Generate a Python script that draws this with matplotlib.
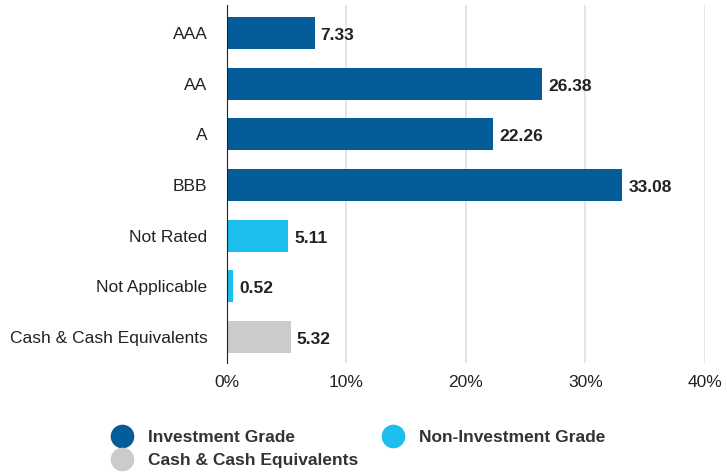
import matplotlib
matplotlib.use('Agg')
import matplotlib.pyplot as plt
from matplotlib.lines import Line2D

# Data
categories = ['AAA', 'AA', 'A', 'BBB', 'Not Rated', 'Not Applicable', 'Cash & Cash Equivalents']
values = [7.33, 26.38, 22.26, 33.08, 5.11, 0.52, 5.32]
groups = ['inv', 'inv', 'inv', 'inv', 'non', 'non', 'cash']
group_labels = {'inv': 'Investment Grade', 'non': 'Non-Investment Grade', 'cash': 'Cash & Cash Equivalents'}
group_colors = {'inv': '#045C98', 'non': '#1BBEEC', 'cash': '#CCCBC9'}
xticks = [0, 10, 20, 30, 40]

plt.rcParams['font.family'] = ['Liberation Sans', 'DejaVu Sans']

fig = plt.figure(figsize=(7.27, 4.72), dpi=100)
ax = fig.add_axes([0.3122, 0.2309, 0.6575, 0.7585])

y = list(range(len(categories)))
colors = [group_colors[g] for g in groups]
ax.barh(y, values, height=0.63, color=colors, zorder=3)

for yi, v in zip(y, values):
    ax.text(v + 0.5, yi + 0.05, f'{v:.2f}', va='center', ha='left',
            fontsize=12.5, fontweight='bold', color='#222222')

ax.set_xlim(0, 40)
ax.set_ylim(6.51, -0.55)
ax.set_yticks(y)
ax.set_yticklabels(categories, fontsize=12.5, color='#222222')
ax.set_xticks(xticks)
ax.set_xticklabels([f'{t}%' for t in xticks], fontsize=12.5, color='#222222')
ax.tick_params(axis='x', length=0, pad=8.5)
ax.tick_params(axis='y', length=0, pad=14)
ax.grid(axis='x', color='#E0E0E0', linewidth=1.2, zorder=0)
for s in ['top', 'right', 'bottom']:
    ax.spines[s].set_visible(False)
ax.spines['left'].set_color('#222222')
ax.spines['left'].set_zorder(4)

# Legend, ordered so that it fills row-wise
order = ['inv', 'cash', 'non']
handles = [Line2D([], [], marker='o', linestyle='', markersize=16,
                  markerfacecolor=group_colors[g], markeredgecolor=group_colors[g],
                  label=group_labels[g]) for g in order]
leg = fig.legend(handles=handles, ncol=2, loc='upper left',
                 bbox_to_anchor=(0.142, 0.107), frameon=False,
                 prop={'size': 12.5, 'weight': 'bold'},
                 handletextpad=0.9, columnspacing=1.4, labelspacing=0.45,
                 borderpad=0, handlelength=1.2)
for t in leg.get_texts():
    t.set_color('#333333')

fig.savefig('out.png', dpi=100)
